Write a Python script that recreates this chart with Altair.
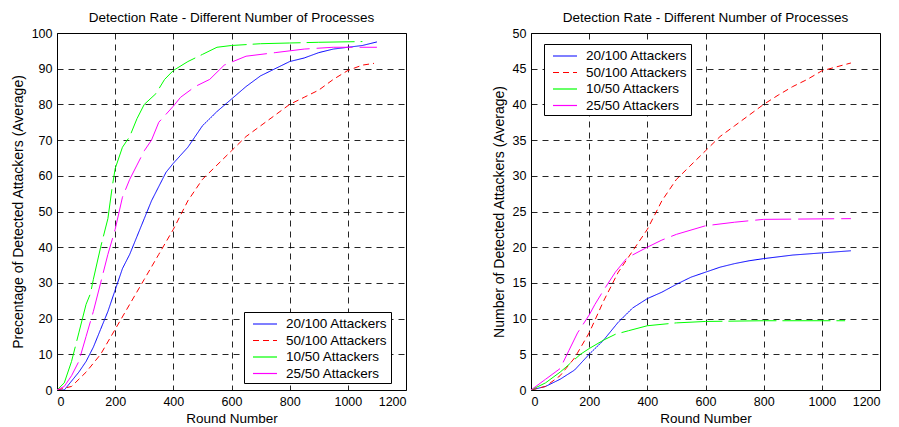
import altair as alt
import pandas as pd

FONT = "Liberation Sans"
SERIES = ["20/100 Attackers", "50/100 Attackers", "10/50 Attackers", "25/50 Attackers"]
COLORS = ["#0000ff", "#ff0000", "#00ff00", "#ff00ff"]
DASHES = [[1, 0], [6, 4], [48, 6], [36, 7]]

# ---- Left panel: percentage ----
L_blue_x = [0, 25, 50, 75, 100, 125, 150, 175, 200, 225, 250, 275, 300, 325, 350, 375, 400, 450, 500, 550, 600, 650, 700, 750, 800, 850, 900, 950, 1000, 1050, 1100]
L_blue_y = [0, 0, 2.5, 5, 8, 12, 17, 22, 28, 34, 38, 43, 48, 53, 57, 61, 63.5, 68, 74, 78, 81.5, 85, 88, 90, 92, 93, 94.5, 95.5, 96, 96.5, 97.5]
L_red_x = [0, 50, 100, 150, 200, 250, 300, 350, 400, 450, 500, 550, 600, 650, 700, 750, 800, 850, 900, 950, 1000, 1050, 1090]
L_red_y = [0, 1, 5, 10, 17, 24, 31, 38, 45, 53, 59, 63, 67, 71, 74, 77, 80, 82, 84, 87, 89.5, 91, 91.5]
L_green_x = [0, 25, 50, 75, 100, 115, 125, 150, 175, 190, 200, 225, 250, 275, 300, 340, 370, 400, 450, 500, 550, 600, 700, 800, 900, 1050]
L_green_y = [0, 2, 8, 16, 24, 27, 31, 40, 48, 57, 62, 68, 71, 76, 80, 83, 87, 89.5, 92, 94, 96, 96.5, 97, 97.2, 97.4, 97.6]
L_mag_x = [0, 25, 50, 75, 100, 125, 150, 175, 200, 225, 250, 275, 300, 325, 350, 400, 425, 475, 525, 575, 650, 750, 850, 950, 1100]
L_mag_y = [0, 1, 4, 8, 15, 22, 30, 38, 45, 54, 59, 63, 67, 70, 75, 79.5, 82, 85, 87, 91, 93.5, 94.5, 95.5, 96, 96]

# ---- Right panel: counts ----
R_blue_x = [0, 50, 100, 150, 200, 250, 300, 350, 400, 450, 500, 550, 600, 650, 700, 750, 800, 900, 1000, 1100]
R_blue_y = [0, 0.5, 1.5, 2.8, 5, 7, 9.5, 11.5, 12.8, 13.7, 14.8, 15.8, 16.5, 17.2, 17.7, 18.1, 18.4, 18.9, 19.2, 19.5]
R_red_x = [0, 50, 100, 150, 200, 250, 300, 350, 400, 450, 500, 550, 600, 650, 700, 750, 800, 850, 900, 950, 1000, 1100]
R_red_y = [0, 0.5, 2, 4.5, 8, 12.5, 16.5, 19.5, 22.5, 26.5, 29.5, 31.5, 33.5, 35.5, 37, 38.5, 40, 41.3, 42.5, 43.5, 44.7, 45.8]
R_green_x = [0, 50, 100, 120, 170, 200, 250, 290, 335, 400, 500, 600, 800, 1080]
R_green_y = [0, 1, 2.5, 3.2, 5, 5.8, 7, 7.8, 8.3, 9, 9.4, 9.6, 9.7, 9.7]
R_mag_x = [0, 50, 100, 130, 160, 200, 220, 250, 290, 330, 400, 450, 500, 600, 700, 800, 1100]
R_mag_y = [0, 1.5, 3, 5.5, 8, 10.5, 12, 14, 16.5, 18.5, 20, 21, 21.8, 23, 23.5, 23.9, 24]

X_TICKS = [0, 200, 400, 600, 800, 1000, 1200]


def frame(pairs):
    rows = []
    for name, xs, ys in pairs:
        for i, (a, b) in enumerate(zip(xs, ys)):
            rows.append({"series": name, "x": a, "y": b, "i": i})
    return pd.DataFrame(rows)


def panel(df, ymax, ystep, ytitle, lx, ly):
    leg = dict(title=None, orient="none", legendX=lx, legendY=ly,
               symbolType="M-1.5,0L1.5,0", symbolSize=256, symbolStrokeWidth=1.2,
               symbolOffset=9, symbolFillColor="transparent",
               labelFont=FONT, labelFontSize=13.5, labelColor="black",
               strokeColor="black", fillColor="white", padding=3,
               rowPadding=0.5, labelOffset=12)
    return alt.Chart(df).mark_line(strokeWidth=1, clip=True).encode(
        x=alt.X("x:Q", scale=alt.Scale(domain=[0, 1200], nice=False),
                axis=alt.Axis(values=X_TICKS, title="Round Number", format="d")),
        y=alt.Y("y:Q", scale=alt.Scale(domain=[0, ymax], nice=False),
                axis=alt.Axis(values=list(range(0, ymax + 1, ystep)), title=ytitle, format="d")),
        color=alt.Color("series:N", scale=alt.Scale(domain=SERIES, range=COLORS),
                        legend=alt.Legend(**leg)),
        strokeDash=alt.StrokeDash("series:N", scale=alt.Scale(domain=SERIES, range=DASHES),
                                  legend=alt.Legend(**leg)),
        order="i:Q",
    ).properties(width=349, height=357,
                 title=alt.Title("Detection Rate - Different Number of Processes",
                                 font=FONT, fontSize=13.5, fontWeight="normal", color="black",
                                 offset=3))


left = panel(frame([(SERIES[0], L_blue_x, L_blue_y), (SERIES[1], L_red_x, L_red_y),
                    (SERIES[2], L_green_x, L_green_y), (SERIES[3], L_mag_x, L_mag_y)]),
             100, 10, "Precentage of Detected Attackers (Average)", 187, 279)
right = panel(frame([(SERIES[0], R_blue_x, R_blue_y), (SERIES[1], R_red_x, R_red_y),
                     (SERIES[2], R_green_x, R_green_y), (SERIES[3], R_mag_x, R_mag_y)]),
              50, 5, "Number of Detected Attackers (Average)", 13, 11)

chart = alt.hconcat(left, right, spacing=84).resolve_scale(
    color="independent", strokeDash="independent"
).resolve_legend(color="independent", strokeDash="independent").properties(
    padding={"left": 2, "top": 2, "right": 0, "bottom": 0}
).configure_view(stroke="black", strokeWidth=1).configure_axis(
    grid=True, gridColor="black", gridDash=[6, 5], gridWidth=1, gridOpacity=0.85,
    domain=False, ticks=False,
    labelFont=FONT, labelFontSize=12.5, labelColor="black", labelPadding=5,
    titleFont=FONT, titleFontSize=13.5, titleFontWeight="normal", titleColor="black",
).configure_axisY(titlePadding=6, titleFontSize=14).configure_axisX(titlePadding=4)

chart.save("out.html", embed_options={"renderer": "svg", "actions": False})
